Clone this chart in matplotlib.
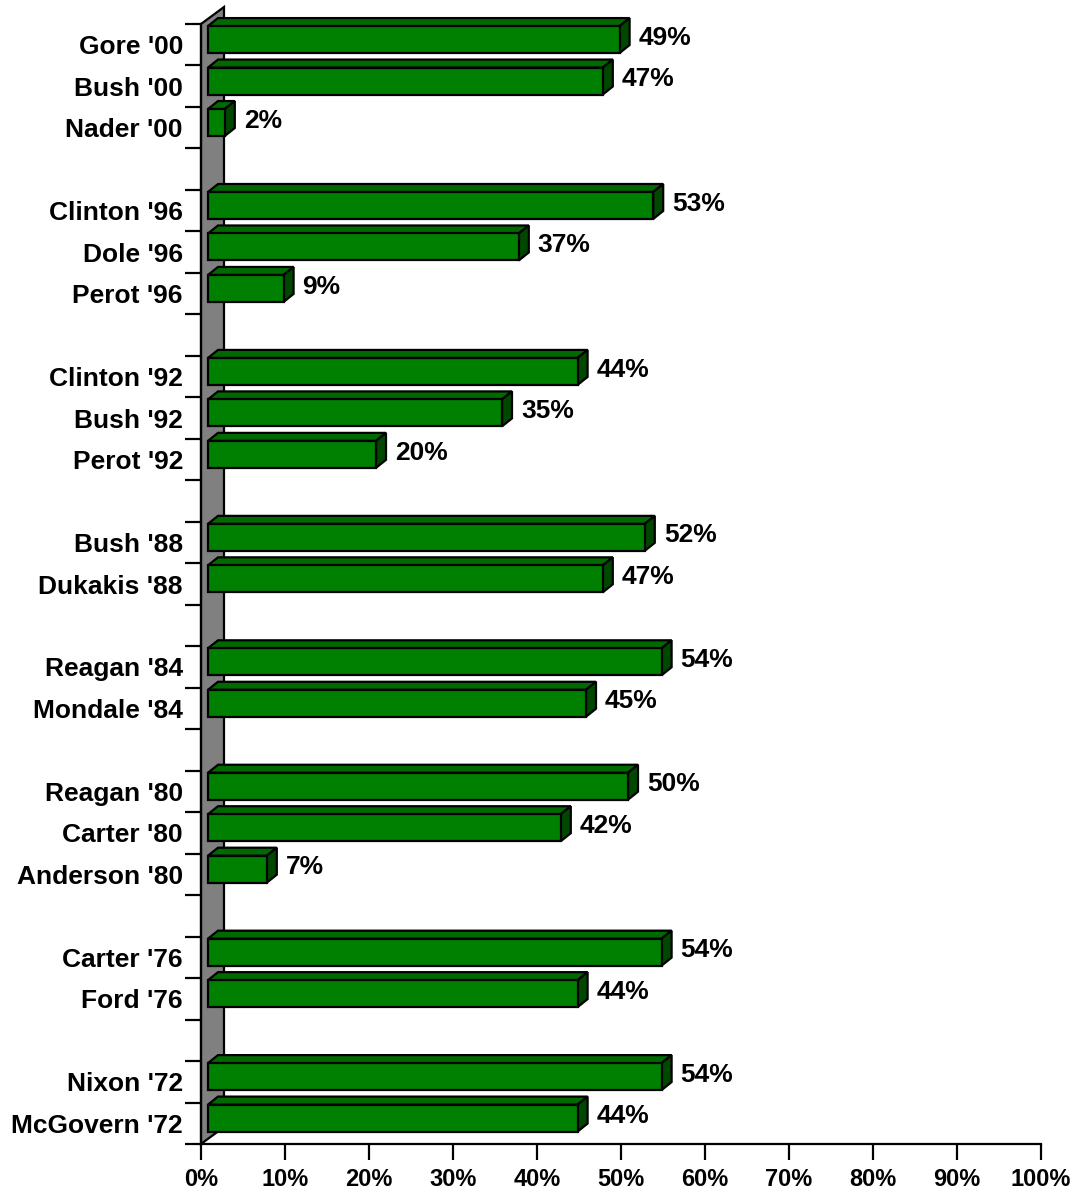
import matplotlib
matplotlib.use("Agg")
import matplotlib.pyplot as plt
from matplotlib.patches import Polygon

# Datos: una fila por candidato, "" / None para los huecos entre elecciones
candidates = ["Gore '00", "Bush '00", "Nader '00", "",
              "Clinton '96", "Dole '96", "Perot '96", "",
              "Clinton '92", "Bush '92", "Perot '92", "",
              "Bush '88", "Dukakis '88", "",
              "Reagan '84", "Mondale '84", "",
              "Reagan '80", "Carter '80", "Anderson '80", "",
              "Carter '76", "Ford '76", "",
              "Nixon '72", "McGovern '72"]
vote_share = [49, 47, 2, None,
              53, 37, 9, None,
              44, 35, 20, None,
              52, 47, None,
              54, 45, None,
              50, 42, 7, None,
              54, 44, None,
              54, 44]
x_ticks = list(range(0, 101, 10))

plt.rcParams['font.family'] = ['Liberation Sans', 'DejaVu Sans']
plt.rcParams['font.weight'] = 'bold'

W, H = 1078, 1194
fig = plt.figure(figsize=(W / 100, H / 100), dpi=100)
ax = fig.add_axes([201 / W, 50 / H, 840 / W, 1120 / H])

n = len(candidates)
ax.set_xlim(0, 100)
ax.set_ylim(n, 0)

# conversion pixel -> datos
px_x = 100 / 840
px_y = n / 1120

# efecto 3D (pared y barras)
wall_dx, wall_dy = 23 * px_x, 17 * px_y
front_dx = 7 * px_x
bar_dx, bar_dy = 10 * px_x, 8 * px_y
lw = 1.6

wall = Polygon([(0, 0), (wall_dx, -wall_dy), (wall_dx, n - wall_dy), (0, n)],
               closed=True, fc='#808080', ec='black', lw=lw, clip_on=False, zorder=1)
ax.add_patch(wall)

for i, v in enumerate(vote_share):
    if v is None:
        continue
    x0 = front_dx
    x1 = v + front_dx
    y0 = i + 0.05
    y1 = i + 0.70
    front = [(x0, y0), (x1, y0), (x1, y1), (x0, y1)]
    top = [(x0, y0), (x0 + bar_dx, y0 - bar_dy), (x1 + bar_dx, y0 - bar_dy), (x1, y0)]
    side = [(x1, y0), (x1 + bar_dx, y0 - bar_dy), (x1 + bar_dx, y1 - bar_dy), (x1, y1)]
    for pts, col in [(top, '#006a00'), (side, '#004800'), (front, '#008000')]:
        ax.add_patch(Polygon(pts, closed=True, fc=col, ec='black', lw=lw,
                             clip_on=False, zorder=3, joinstyle='miter'))
    ax.text(x1 + bar_dx + 9 * px_x, i + 0.33, f"{v}%", ha='left', va='center',
            fontsize=19, fontweight='bold', color='black')

# ejes
for s in ['top', 'right']:
    ax.spines[s].set_visible(False)
for s in ['left', 'bottom']:
    ax.spines[s].set_linewidth(lw)

ax.set_xticks(x_ticks)
ax.set_xticklabels([f"{t}%" for t in x_ticks])
ax.tick_params(axis='x', direction='out', length=11.5, width=lw, pad=6,
               labelsize=17)

ax.set_yticks(range(n + 1))
ax.set_yticklabels([])
ax.tick_params(axis='y', which='major', direction='out', length=11.5, width=lw)
ax.set_yticks([i + 0.5 for i in range(n)], minor=True)
ax.set_yticklabels(candidates, minor=True)
ax.tick_params(axis='y', which='minor', length=0, pad=13, labelsize=19)
for lbl in ax.get_xticklabels() + ax.get_yticklabels(minor=True):
    lbl.set_fontweight('bold')

fig.savefig('out.png', dpi=100)
